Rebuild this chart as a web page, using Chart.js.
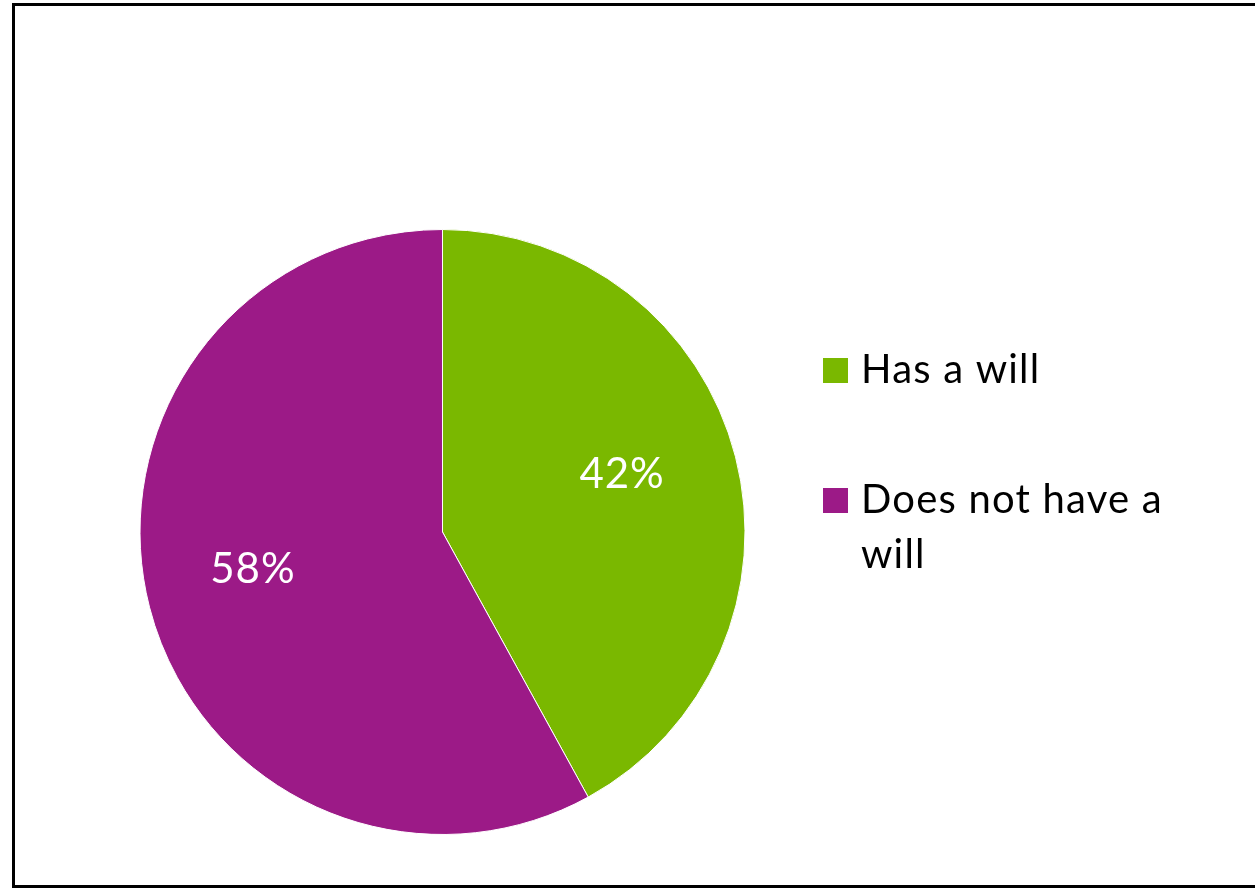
<!DOCTYPE html>
<html>
<head>
<meta charset="utf-8">
<script src="https://cdn.jsdelivr.net/npm/chart.js@4"></script>
<style>
  html, body { margin: 0; padding: 0; background: #ffffff; overflow: hidden; }
  #frame {
    position: absolute; left: 12px; top: 3px;
    width: 1300px; height: 879px;
    border: 3px solid #000000; box-sizing: content-box;
  }
  #wrap { position: absolute; left: 0; top: 0; width: 1255px; height: 888px; }
</style>
</head>
<body>
<div id="frame"></div>
<div id="wrap"><canvas id="pie" width="1255" height="888"></canvas></div>
<script>
// Share of people with and without a will
const categories = ['Has a will', 'Does not have a will'];
const shares = [42, 58];
const sliceColors = ['#7AB800', '#9C1A87'];

const FONT = 'Lato, "Open Sans", sans-serif';

// Percentage labels drawn inside each slice
const sliceLabels = {
  id: 'sliceLabels',
  afterDatasetsDraw(chart) {
    const ctx = chart.ctx;
    const meta = chart.getDatasetMeta(0);
    ctx.save();
    ctx.fillStyle = '#ffffff';
    ctx.font = '400 42px ' + FONT;
    ctx.textAlign = 'center';
    ctx.textBaseline = 'middle';
    if ('letterSpacing' in ctx) ctx.letterSpacing = '1px';
    meta.data.forEach((arc, i) => {
      const p = arc.getProps(['x', 'y', 'startAngle', 'endAngle', 'outerRadius']);
      const mid = (p.startAngle + p.endAngle) / 2;
      const r = p.outerRadius * 0.63;
      const x = p.x + Math.cos(mid) * r - 5;
      const y = p.y + Math.sin(mid) * r - 10;
      ctx.fillText(chart.data.datasets[0].data[i] + '%', x, y);
    });
    ctx.restore();
  }
};

// Legend on the right with wrapped entries
const sideLegend = {
  id: 'sideLegend',
  afterDraw(chart) {
    const ctx = chart.ctx;
    const boxX = 823, box = 25, textX = 861;
    const maxWidth = 330, lineH = 55, itemGap = 75;
    let y = 370; // vertical centre of the first line
    ctx.save();
    ctx.font = '400 40px ' + FONT;
    ctx.textBaseline = 'middle';
    ctx.textAlign = 'left';
    if ('letterSpacing' in ctx) ctx.letterSpacing = '1.2px';
    chart.data.labels.forEach((label, i) => {
      const words = label.split(' ');
      const lines = [];
      let cur = '';
      words.forEach(w => {
        const test = cur ? cur + ' ' + w : w;
        if (ctx.measureText(test).width > maxWidth && cur) { lines.push(cur); cur = w; }
        else cur = test;
      });
      if (cur) lines.push(cur);
      ctx.fillStyle = chart.data.datasets[0].backgroundColor[i];
      ctx.fillRect(boxX, Math.round(y - box / 2), box, box);
      ctx.fillStyle = '#000000';
      lines.forEach((ln, j) => ctx.fillText(ln, textX, y + j * lineH));
      y += lines.length * lineH + itemGap;
    });
    ctx.restore();
  }
};

new Chart(document.getElementById('pie'), {
  type: 'pie',
  data: {
    labels: categories,
    datasets: [{
      data: shares,
      backgroundColor: sliceColors,
      borderColor: '#ffffff',
      borderWidth: 1
    }]
  },
  options: {
    responsive: false,
    animation: false,
    layout: { padding: { left: 139, right: 509, top: 229, bottom: 53 } },
    plugins: {
      legend: { display: false },
      tooltip: { enabled: false }
    }
  },
  plugins: [sliceLabels, sideLegend]
});
</script>
</body>
</html>
